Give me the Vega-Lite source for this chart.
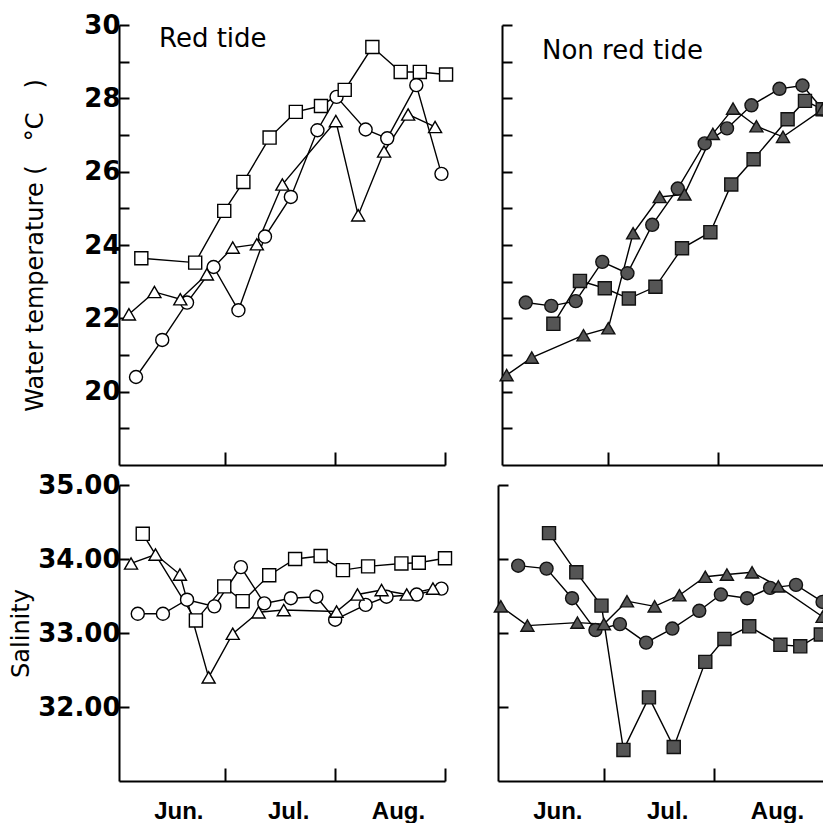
{
  "$schema": "https://vega.github.io/schema/vega-lite/v6.json",
  "background": "white",
  "padding": {"left": 9, "top": 12, "right": 0, "bottom": 0},
  "config": {
    "view": {"stroke": null},
    "font": "Liberation Sans",
    "title": {"font": "DejaVu Sans", "fontSize": 26, "fontWeight": "normal", "color": "black", "anchor": "start", "frame": "group", "offset": -40, "dx": 40},
    "axis": {
      "grid": false,
      "domainColor": "black",
      "domainWidth": 2,
      "tickColor": "black",
      "tickWidth": 2,
      "labelColor": "black",
      "labelFont": "DejaVu Sans",
      "labelFontWeight": "bold",
      "labelFontSize": 26,
      "titleColor": "black",
      "titleFont": "DejaVu Sans",
      "titleFontWeight": "normal",
      "titleFontSize": 24
    }
  },
  "datasets": {
    "temp": [
      {"tide": "red", "series": "a", "day": 4.8, "temp": 20.40},
      {"tide": "red", "series": "a", "day": 12.2, "temp": 21.41},
      {"tide": "red", "series": "a", "day": 19.2, "temp": 22.43},
      {"tide": "red", "series": "a", "day": 26.7, "temp": 23.40},
      {"tide": "red", "series": "a", "day": 33.7, "temp": 22.22},
      {"tide": "red", "series": "a", "day": 41.2, "temp": 24.23},
      {"tide": "red", "series": "a", "day": 48.5, "temp": 25.31},
      {"tide": "red", "series": "a", "day": 56.0, "temp": 27.13},
      {"tide": "red", "series": "a", "day": 61.4, "temp": 28.04},
      {"tide": "red", "series": "a", "day": 69.6, "temp": 27.15},
      {"tide": "red", "series": "a", "day": 75.7, "temp": 26.91},
      {"tide": "red", "series": "a", "day": 83.9, "temp": 28.36},
      {"tide": "red", "series": "a", "day": 91.0, "temp": 25.94},
      {"tide": "red", "series": "b", "day": 6.3, "temp": 23.64},
      {"tide": "red", "series": "b", "day": 21.5, "temp": 23.52},
      {"tide": "red", "series": "b", "day": 29.7, "temp": 24.93},
      {"tide": "red", "series": "b", "day": 35.1, "temp": 25.72},
      {"tide": "red", "series": "b", "day": 42.5, "temp": 26.93},
      {"tide": "red", "series": "b", "day": 49.9, "temp": 27.63},
      {"tide": "red", "series": "b", "day": 57.0, "temp": 27.79},
      {"tide": "red", "series": "b", "day": 63.7, "temp": 28.23},
      {"tide": "red", "series": "b", "day": 71.5, "temp": 29.40},
      {"tide": "red", "series": "b", "day": 79.5, "temp": 28.72},
      {"tide": "red", "series": "b", "day": 84.9, "temp": 28.72},
      {"tide": "red", "series": "b", "day": 92.3, "temp": 28.65},
      {"tide": "red", "series": "c", "day": 2.8, "temp": 22.11},
      {"tide": "red", "series": "c", "day": 10.0, "temp": 22.72},
      {"tide": "red", "series": "c", "day": 17.3, "temp": 22.52},
      {"tide": "red", "series": "c", "day": 24.8, "temp": 23.20},
      {"tide": "red", "series": "c", "day": 32.1, "temp": 23.93},
      {"tide": "red", "series": "c", "day": 38.9, "temp": 24.02},
      {"tide": "red", "series": "c", "day": 46.1, "temp": 25.65},
      {"tide": "red", "series": "c", "day": 61.2, "temp": 27.38},
      {"tide": "red", "series": "c", "day": 67.5, "temp": 24.81},
      {"tide": "red", "series": "c", "day": 74.8, "temp": 26.55},
      {"tide": "red", "series": "c", "day": 81.6, "temp": 27.56},
      {"tide": "red", "series": "c", "day": 89.2, "temp": 27.22},
      {"tide": "non", "series": "a", "day": 6.7, "temp": 22.43},
      {"tide": "non", "series": "a", "day": 13.9, "temp": 22.34},
      {"tide": "non", "series": "a", "day": 20.8, "temp": 22.47},
      {"tide": "non", "series": "a", "day": 28.3, "temp": 23.54},
      {"tide": "non", "series": "a", "day": 35.4, "temp": 23.23},
      {"tide": "non", "series": "a", "day": 42.4, "temp": 24.55},
      {"tide": "non", "series": "a", "day": 49.6, "temp": 25.54},
      {"tide": "non", "series": "a", "day": 57.2, "temp": 26.77},
      {"tide": "non", "series": "a", "day": 63.5, "temp": 27.18},
      {"tide": "non", "series": "a", "day": 70.4, "temp": 27.81},
      {"tide": "non", "series": "a", "day": 78.3, "temp": 28.26},
      {"tide": "non", "series": "a", "day": 84.8, "temp": 28.35},
      {"tide": "non", "series": "a", "day": 90.5, "temp": 27.70},
      {"tide": "non", "series": "b", "day": 14.5, "temp": 21.85},
      {"tide": "non", "series": "b", "day": 22.0, "temp": 23.02},
      {"tide": "non", "series": "b", "day": 29.0, "temp": 22.82},
      {"tide": "non", "series": "b", "day": 35.8, "temp": 22.54},
      {"tide": "non", "series": "b", "day": 43.3, "temp": 22.86},
      {"tide": "non", "series": "b", "day": 50.8, "temp": 23.91},
      {"tide": "non", "series": "b", "day": 58.8, "temp": 24.35},
      {"tide": "non", "series": "b", "day": 64.7, "temp": 25.65},
      {"tide": "non", "series": "b", "day": 71.0, "temp": 26.34},
      {"tide": "non", "series": "b", "day": 80.6, "temp": 27.43},
      {"tide": "non", "series": "b", "day": 85.5, "temp": 27.93},
      {"tide": "non", "series": "b", "day": 90.5, "temp": 27.70},
      {"tide": "non", "series": "c", "day": 1.3, "temp": 20.45},
      {"tide": "non", "series": "c", "day": 8.4, "temp": 20.93},
      {"tide": "non", "series": "c", "day": 23.0, "temp": 21.54},
      {"tide": "non", "series": "c", "day": 30.0, "temp": 21.73},
      {"tide": "non", "series": "c", "day": 37.0, "temp": 24.32},
      {"tide": "non", "series": "c", "day": 44.5, "temp": 25.31},
      {"tide": "non", "series": "c", "day": 51.5, "temp": 25.38},
      {"tide": "non", "series": "c", "day": 59.5, "temp": 27.03},
      {"tide": "non", "series": "c", "day": 65.2, "temp": 27.72},
      {"tide": "non", "series": "c", "day": 71.8, "temp": 27.24},
      {"tide": "non", "series": "c", "day": 79.3, "temp": 26.95},
      {"tide": "non", "series": "c", "day": 90.5, "temp": 27.70}
    ],
    "sal": [
      {"tide": "red", "series": "a", "day": 5.3, "sal": 33.26},
      {"tide": "red", "series": "a", "day": 12.4, "sal": 33.26},
      {"tide": "red", "series": "a", "day": 19.2, "sal": 33.45},
      {"tide": "red", "series": "a", "day": 26.9, "sal": 33.36},
      {"tide": "red", "series": "a", "day": 34.4, "sal": 33.89},
      {"tide": "red", "series": "a", "day": 41.0, "sal": 33.40},
      {"tide": "red", "series": "a", "day": 48.5, "sal": 33.47},
      {"tide": "red", "series": "a", "day": 55.7, "sal": 33.49},
      {"tide": "red", "series": "a", "day": 61.0, "sal": 33.18},
      {"tide": "red", "series": "a", "day": 69.6, "sal": 33.38},
      {"tide": "red", "series": "a", "day": 75.5, "sal": 33.49},
      {"tide": "red", "series": "a", "day": 84.0, "sal": 33.52},
      {"tide": "red", "series": "a", "day": 91.0, "sal": 33.60},
      {"tide": "red", "series": "b", "day": 6.7, "sal": 34.34},
      {"tide": "red", "series": "b", "day": 21.7, "sal": 33.17},
      {"tide": "red", "series": "b", "day": 29.7, "sal": 33.63},
      {"tide": "red", "series": "b", "day": 34.9, "sal": 33.43},
      {"tide": "red", "series": "b", "day": 42.4, "sal": 33.78},
      {"tide": "red", "series": "b", "day": 49.7, "sal": 34.00},
      {"tide": "red", "series": "b", "day": 56.9, "sal": 34.04},
      {"tide": "red", "series": "b", "day": 63.2, "sal": 33.85},
      {"tide": "red", "series": "b", "day": 70.3, "sal": 33.90},
      {"tide": "red", "series": "b", "day": 79.7, "sal": 33.94},
      {"tide": "red", "series": "b", "day": 84.6, "sal": 33.95},
      {"tide": "red", "series": "b", "day": 92.0, "sal": 34.01},
      {"tide": "red", "series": "c", "day": 3.4, "sal": 33.94},
      {"tide": "red", "series": "c", "day": 10.3, "sal": 34.06},
      {"tide": "red", "series": "c", "day": 17.2, "sal": 33.79},
      {"tide": "red", "series": "c", "day": 25.3, "sal": 32.40},
      {"tide": "red", "series": "c", "day": 32.1, "sal": 32.99},
      {"tide": "red", "series": "c", "day": 39.4, "sal": 33.28},
      {"tide": "red", "series": "c", "day": 46.5, "sal": 33.31},
      {"tide": "red", "series": "c", "day": 61.4, "sal": 33.29},
      {"tide": "red", "series": "c", "day": 67.3, "sal": 33.52},
      {"tide": "red", "series": "c", "day": 74.1, "sal": 33.58},
      {"tide": "red", "series": "c", "day": 81.2, "sal": 33.52},
      {"tide": "red", "series": "c", "day": 88.6, "sal": 33.60},
      {"tide": "non", "series": "a", "day": 5.7, "sal": 33.91},
      {"tide": "non", "series": "a", "day": 13.7, "sal": 33.87},
      {"tide": "non", "series": "a", "day": 20.9, "sal": 33.47},
      {"tide": "non", "series": "a", "day": 27.5, "sal": 33.04},
      {"tide": "non", "series": "a", "day": 34.4, "sal": 33.12},
      {"tide": "non", "series": "a", "day": 41.8, "sal": 32.87},
      {"tide": "non", "series": "a", "day": 49.2, "sal": 33.06},
      {"tide": "non", "series": "a", "day": 56.8, "sal": 33.30},
      {"tide": "non", "series": "a", "day": 62.9, "sal": 33.52},
      {"tide": "non", "series": "a", "day": 70.3, "sal": 33.47},
      {"tide": "non", "series": "a", "day": 76.8, "sal": 33.61},
      {"tide": "non", "series": "a", "day": 84.1, "sal": 33.65},
      {"tide": "non", "series": "a", "day": 91.6, "sal": 33.42},
      {"tide": "non", "series": "b", "day": 14.4, "sal": 34.35},
      {"tide": "non", "series": "b", "day": 22.1, "sal": 33.82},
      {"tide": "non", "series": "b", "day": 29.2, "sal": 33.37},
      {"tide": "non", "series": "b", "day": 35.4, "sal": 31.42},
      {"tide": "non", "series": "b", "day": 42.6, "sal": 32.13},
      {"tide": "non", "series": "b", "day": 49.6, "sal": 31.46},
      {"tide": "non", "series": "b", "day": 58.5, "sal": 32.61},
      {"tide": "non", "series": "b", "day": 63.9, "sal": 32.92},
      {"tide": "non", "series": "b", "day": 70.9, "sal": 33.09},
      {"tide": "non", "series": "b", "day": 79.7, "sal": 32.84},
      {"tide": "non", "series": "b", "day": 85.3, "sal": 32.82},
      {"tide": "non", "series": "b", "day": 91.1, "sal": 32.98},
      {"tide": "non", "series": "c", "day": 0.8, "sal": 33.36},
      {"tide": "non", "series": "c", "day": 8.3, "sal": 33.10},
      {"tide": "non", "series": "c", "day": 22.4, "sal": 33.14},
      {"tide": "non", "series": "c", "day": 29.9, "sal": 33.12},
      {"tide": "non", "series": "c", "day": 36.4, "sal": 33.43},
      {"tide": "non", "series": "c", "day": 44.2, "sal": 33.36},
      {"tide": "non", "series": "c", "day": 51.2, "sal": 33.51},
      {"tide": "non", "series": "c", "day": 58.5, "sal": 33.76},
      {"tide": "non", "series": "c", "day": 64.6, "sal": 33.79},
      {"tide": "non", "series": "c", "day": 71.7, "sal": 33.82},
      {"tide": "non", "series": "c", "day": 79.1, "sal": 33.63},
      {"tide": "non", "series": "c", "day": 91.6, "sal": 33.22}
    ]
  },
  "spacing": 6,
  "vconcat": [
    {
      "spacing": 41,
      "hconcat": [
        {
          "width": 326,
          "height": 440,
          "title": "Red tide",
          "data": {"name": "temp"},
          "transform": [{"filter": "datum.tide == 'red'"}],
          "encoding": {
            "x": {"field": "day", "type": "quantitative", "scale": {"domain": [0, 92], "nice": false, "zero": false},
                  "axis": {"values": [30, 61, 92], "tickSize": -13, "labels": false, "title": null}},
            "y": {"field": "temp", "type": "quantitative", "scale": {"domain": [18, 30], "nice": false, "zero": false},
                  "axis": {"values": [19, 20, 21, 22, 23, 24, 25, 26, 27, 28, 29, 30], "tickSize": -10, "labelPadding": 9,
                           "labelExpr": "datum.value % 2 == 0 ? datum.label : ''", "labelOverlap": false,
                           "title": "Water temperature (\u2003°C\u2003)", "titlePadding": 36}}
          },
          "layer": [
            {
              "mark": {"type": "line", "color": "black", "strokeWidth": 1.4},
              "encoding": {"detail": {"field": "series"}}
            },
            {
              "mark": {"type": "point", "filled": true, "fill": "white", "stroke": "black", "strokeWidth": 1.4, "size": 170, "opacity": 1},
              "encoding": {
                "shape": {"field": "series", "scale": {"domain": ["a", "b", "c"], "range": ["circle", "square", "triangle-up"]}, "legend": null}
              }
            }
          ]
        },
        {
          "width": 326,
          "height": 440,
          "title": "Non red tide",
          "data": {"name": "temp"},
          "transform": [{"filter": "datum.tide == 'non'"}],
          "encoding": {
            "x": {"field": "day", "type": "quantitative", "scale": {"domain": [0, 92], "nice": false, "zero": false},
                  "axis": {"values": [30, 61, 92], "tickSize": -13, "labels": false, "title": null}},
            "y": {"field": "temp", "type": "quantitative", "scale": {"domain": [18, 30], "nice": false, "zero": false},
                  "axis": {"values": [19, 20, 21, 22, 23, 24, 25, 26, 27, 28, 29, 30], "tickSize": -10, "labels": false, "title": null}}
          },
          "layer": [
            {
              "mark": {"type": "line", "color": "black", "strokeWidth": 1.4},
              "encoding": {"detail": {"field": "series"}}
            },
            {
              "mark": {"type": "point", "filled": true, "fill": "#555555", "stroke": "#111111", "strokeWidth": 1.4, "size": 170, "opacity": 1},
              "encoding": {
                "shape": {"field": "series", "scale": {"domain": ["a", "b", "c"], "range": ["circle", "square", "triangle-up"]}, "legend": null}
              }
            }
          ]
        }
      ]
    },
    {
      "spacing": 36,
      "hconcat": [
        {
          "width": 326,
          "height": 296,
          "data": {"name": "sal"},
          "transform": [{"filter": "datum.tide == 'red'"}],
          "encoding": {
            "x": {"field": "day", "type": "quantitative", "scale": {"domain": [0, 92], "nice": false, "zero": false},
                  "axis": {"values": [30, 61, 92], "tickSize": -13, "labelExpr": "datum.value == 30 ? 'Jun.' : datum.value == 61 ? 'Jul.' : 'Aug.'",
                           "labelOffset": -47, "labelPadding": 31, "labelFont": "Liberation Sans", "labelFontSize": 24, "labelFlush": false, "labelOverlap": false, "title": null}},
            "y": {"field": "sal", "type": "quantitative", "scale": {"domain": [31, 35], "nice": false, "zero": false},
                  "axis": {"values": [32, 33, 34, 35], "format": ".2f", "tickSize": -10, "labelPadding": 9, "labelOverlap": false,
                           "title": "Salinity", "titlePadding": 4}}
          },
          "layer": [
            {
              "mark": {"type": "line", "color": "black", "strokeWidth": 1.4},
              "encoding": {"detail": {"field": "series"}}
            },
            {
              "mark": {"type": "point", "filled": true, "fill": "white", "stroke": "black", "strokeWidth": 1.4, "size": 170, "opacity": 1},
              "encoding": {
                "shape": {"field": "series", "scale": {"domain": ["a", "b", "c"], "range": ["circle", "square", "triangle-up"]}, "legend": null}
              }
            }
          ]
        },
        {
          "width": 326,
          "height": 296,
          "data": {"name": "sal"},
          "transform": [{"filter": "datum.tide == 'non'"}],
          "encoding": {
            "x": {"field": "day", "type": "quantitative", "scale": {"domain": [0, 92], "nice": false, "zero": false},
                  "axis": {"values": [30, 61, 92], "tickSize": -13, "labelExpr": "datum.value == 30 ? 'Jun.' : datum.value == 61 ? 'Jul.' : 'Aug.'",
                           "labelOffset": -47, "labelPadding": 31, "labelFont": "Liberation Sans", "labelFontSize": 24, "labelFlush": false, "labelOverlap": false, "title": null}},
            "y": {"field": "sal", "type": "quantitative", "scale": {"domain": [31, 35], "nice": false, "zero": false},
                  "axis": {"values": [32, 33, 34, 35], "tickSize": -10, "labels": false, "title": null}}
          },
          "layer": [
            {
              "mark": {"type": "line", "color": "black", "strokeWidth": 1.4},
              "encoding": {"detail": {"field": "series"}}
            },
            {
              "mark": {"type": "point", "filled": true, "fill": "#555555", "stroke": "#111111", "strokeWidth": 1.4, "size": 170, "opacity": 1},
              "encoding": {
                "shape": {"field": "series", "scale": {"domain": ["a", "b", "c"], "range": ["circle", "square", "triangle-up"]}, "legend": null}
              }
            }
          ]
        }
      ]
    }
  ]
}
